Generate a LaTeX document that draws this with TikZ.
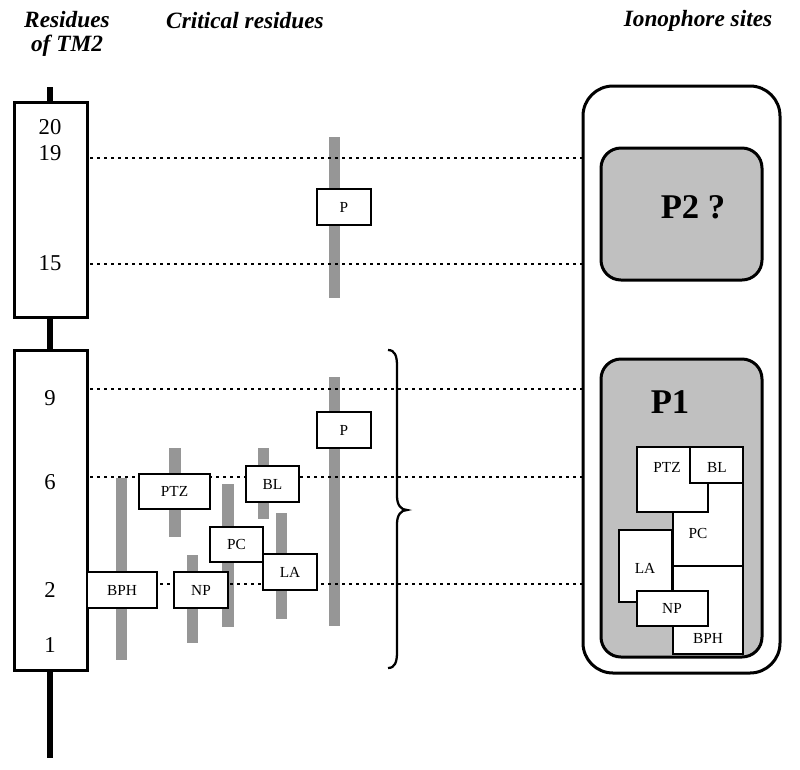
\documentclass[tikz,border=0pt]{standalone}
\usepackage{fontspec}
\setmainfont{Liberation Serif}
\definecolor{barc}{RGB}{150,150,150}
\definecolor{sitec}{RGB}{192,192,192}
\begin{document}
\begin{tikzpicture}[x=0.75pt,y=-0.75pt,
  head/.style={font=\fontsize{17.5}{18}\selectfont\bfseries\itshape, align=center, inner sep=0pt},
  num/.style={font=\fontsize{17}{18}\selectfont, inner sep=0pt},
  tmbox/.style={draw, line width=2.25pt, fill=white, inner sep=0pt},
  crit/.style={draw, line width=1.1pt, fill=white, inner sep=0pt, font=\fontsize{11.5}{13}\selectfont},
  bar/.style={fill=barc, draw=none},
  dotline/.style={line width=2.1pt, dash pattern=on 2.1pt off 3.15pt},
  site/.style={draw, line width=2.25pt, fill=sitec, rounded corners=15pt, inner sep=0pt},
  piece/.style={draw, line width=1.7pt, fill=white, inner sep=0pt},
  plabel/.style={font=\fontsize{11.5}{13}\selectfont, inner sep=0pt},
  big/.style={font=\fontsize{26}{28}\selectfont\bfseries, inner sep=0pt}]
\useasboundingbox (0,0) rectangle (800,769);

% headers
\node[head] (h1) at (67,34) {Residues\\of TM2};
\node[head] (h2) at (245,21) {Critical residues};
\node[head] (h3) at (698,21) {Ionophore sites};

% TM2 stem and boxes
\coordinate (stemtop) at (50,87);
\coordinate (stembot) at (50,758);
\draw[line width=4.5pt] (stemtop) -- (stembot);
\node[tmbox, minimum width=54.75pt, minimum height=161.25pt] (tm1) at (50.5,209.5) {};
\node[tmbox, minimum width=54.75pt, minimum height=240pt] (tm2) at (50.5,510) {};
\node[num] (n20) at (50,127) {20};
\node[num] (n19) at (50,153) {19};
\node[num] (n15) at (50,263) {15};
\node[num] (n9) at (50,398) {9};
\node[num] (n6) at (50,482) {6};
\node[num] (n2) at (50,590) {2};
\node[num] (n1) at (50,645) {1};

% bars
\fill[bar] (329,137) rectangle (340,298);
\fill[bar] (116,478) rectangle (127,660);
\fill[bar] (169,448) rectangle (181,537);
\fill[bar] (187,555) rectangle (198,643);
\fill[bar] (222,484) rectangle (234,627);
\fill[bar] (258,448) rectangle (269,519);
\fill[bar] (276,513) rectangle (287,619);
\fill[bar] (329,377) rectangle (340,626);

% outer site box
\node[draw, line width=2.25pt, rounded corners=22.5pt, minimum width=147.75pt, minimum height=440.25pt, inner sep=0pt] (outer) at (681.5,379.5) {};

% dotted lines
\foreach \yy/\nm in {158/a,264/b,389/c,477/d,584/e}{
  \coordinate (L\nm) at (90,\yy);
  \coordinate (R\nm) at (582,\yy);
  \draw[dotline] (L\nm) -- (R\nm);
}

% critical residue boxes
\node[crit, minimum width=40.5pt, minimum height=27pt] (Ptop) at (344,207) {P};
\node[crit, minimum width=40.5pt, minimum height=27pt] (Plow) at (344,430) {P};
\node[crit, minimum width=52.5pt, minimum height=27pt] (BPH) at (122,590) {BPH};
\node[crit, minimum width=53.25pt, minimum height=26.25pt] (PTZ) at (174.5,491.5) {PTZ};
\node[crit, minimum width=40.5pt, minimum height=27pt] (NP) at (201,590) {NP};
\node[crit, minimum width=39.75pt, minimum height=26.25pt] (PC) at (236.5,544.5) {PC};
\node[crit, minimum width=39.75pt, minimum height=27pt] (BL) at (272.5,484) {BL};
\node[crit, minimum width=40.5pt, minimum height=27pt] (LA) at (290,572) {LA};

% brace
\coordinate (btop) at (388,350);
\coordinate (bbot) at (388,668);
\coordinate (btip) at (407,510);
\draw[line width=1.7pt] (btop) .. controls (395,350) and (397,356) .. (397,366) -- (397,496)
  .. controls (397,505) and (401,510) .. (btip)
  .. controls (401,510) and (397,515) .. (397,524) -- (397,652)
  .. controls (397,662) and (395,668) .. (bbot);

% site boxes
\node[site, minimum width=120.75pt, minimum height=99pt] (P2box) at (681.5,214) {};
\node[big] (P2) at (693,207) {P2 ?};
\node[site, minimum width=120.75pt, minimum height=223.5pt] (P1box) at (681.5,508) {};
\node[big] (P1) at (670,402) {P1};

% pieces inside P1
\node[piece, minimum width=52.5pt, minimum height=72pt] (sPC) at (708,518) {};
\node[piece, minimum width=52.5pt, minimum height=66pt] (sBPH) at (708,610) {};
\node[piece, minimum width=53.25pt, minimum height=48.75pt] (sPTZ) at (672.5,479.5) {};
\node[piece, minimum width=39.75pt, minimum height=27pt] (sBL) at (716.5,465) {};
\node[piece, minimum width=39.75pt, minimum height=54pt] (sLA) at (645.5,566) {};
\node[piece, minimum width=53.25pt, minimum height=26.25pt] (sNP) at (672.5,608.5) {};
\node[plabel] (tPTZ) at (667,467) {PTZ};
\node[plabel] (tBL) at (717,467) {BL};
\node[plabel] (tPC) at (698,533) {PC};
\node[plabel] (tLA) at (645,568) {LA};
\node[plabel] (tNP) at (672,608) {NP};
\node[plabel] (tBPH) at (708,638) {BPH};
\end{tikzpicture}
\end{document}
